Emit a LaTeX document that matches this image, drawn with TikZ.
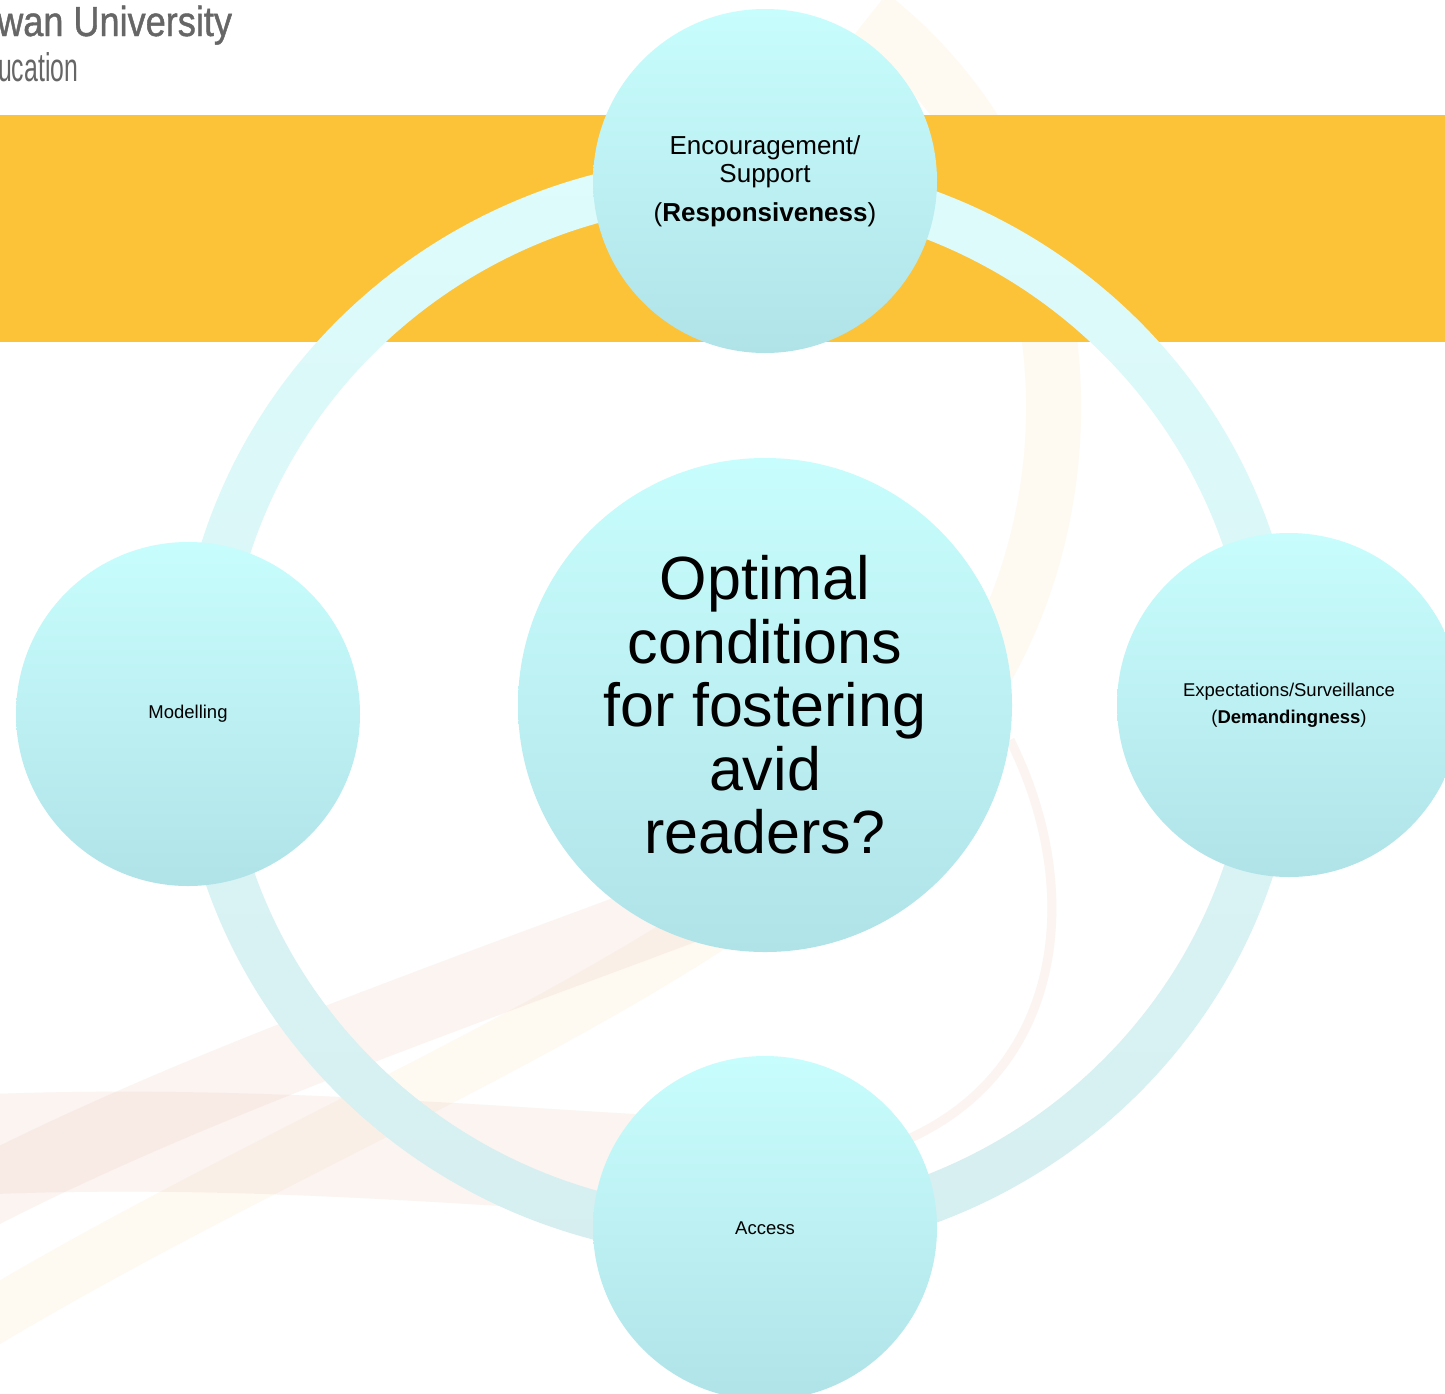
\documentclass[tikz,border=0pt]{standalone}
\usepackage{fontspec}
\setmainfont{Liberation Sans}
\newfontfamily\headfont[FakeStretch=0.86,FakeBold=1]{Liberation Sans}
\newfontfamily\subheadfont[FakeStretch=0.62]{Liberation Sans}
\usepackage{tikz}

\definecolor{bandorange}{RGB}{252,194,56}
\definecolor{bubbletop}{RGB}{200,253,253}
\definecolor{bubblebottom}{RGB}{176,227,232}
\definecolor{ringtop}{RGB}{222,252,252}
\definecolor{ringbottom}{RGB}{214,238,240}
\definecolor{swirlpink}{RGB}{236,190,172}
\definecolor{swirlcream}{RGB}{250,226,180}
\definecolor{headgray}{RGB}{102,102,102}

\tikzset{
  bubble/.style={circle, top color=bubbletop, bottom color=bubblebottom,
    minimum size=344pt, inner sep=0pt, align=center, text=black},
  swirl/.style={opacity=0.17},
}

\begin{document}
\begin{tikzpicture}[x=1pt, y=-1pt]

\useasboundingbox (0,0) rectangle (1445,1393);
\fill[white] (0,0) rectangle (1445,1393);

% Fundo: faixas claras

\draw[swirl, swirlcream, line width=55]
  (-30,1330) .. controls (350,1100) and (800,950) .. (980,680)
  .. controls (1100,480) and (1080,180) .. (870,15);
\draw[swirl, swirlpink, line width=70]
  (-30,1200) .. controls (200,1080) and (500,980) .. (760,880);
\draw[swirl, swirlpink, line width=100]
  (-30,1145) .. controls (300,1130) and (600,1170) .. (800,1170);
\draw[swirl, swirlpink, line width=9]
  (880,1150) .. controls (1060,1090) and (1090,900) .. (1010,740);

% Faixa laranja

\fill[bandorange] (0,115) rectangle (1445,342);

% Anel

\shade[top color=ringtop, bottom color=ringbottom, even odd rule]
  (738,707) ellipse [x radius=562, y radius=551]
  (738,707) ellipse [x radius=512, y radius=503];

% Circulos

\node[bubble, minimum size=494pt, font=\fontsize{61}{63.5}\selectfont] (optimal) at (765,705)
  {Optimal\\conditions\\for fostering\\avid\\readers?};

\node[bubble, font=\fontsize{26}{28}\selectfont] (support) at (765,181)
  {Encouragement/\\Support\\[11pt](\textbf{Responsiveness})};

\node[bubble, font=\fontsize{18.5}{27}\selectfont] (demand) at (1289,705)
  {Expectations/Surveillance\\(\textbf{Demandingness})};

\node[bubble, font=\fontsize{18.5}{22}\selectfont] (modelling) at (188,714) {Modelling};

\node[bubble, font=\fontsize{18.5}{22}\selectfont] (access) at (765,1228) {Access};

% Cabecalho

\node[anchor=base west, inner sep=0pt, text=headgray, font=\headfont\fontsize{42}{44}\selectfont]
  (university) at (-3,36) {wan University};
\node[anchor=base west, inner sep=0pt, text=headgray, font=\subheadfont\fontsize{40}{42}\selectfont]
  (education) at (-2,81) {ucation};

\end{tikzpicture}
\end{document}
